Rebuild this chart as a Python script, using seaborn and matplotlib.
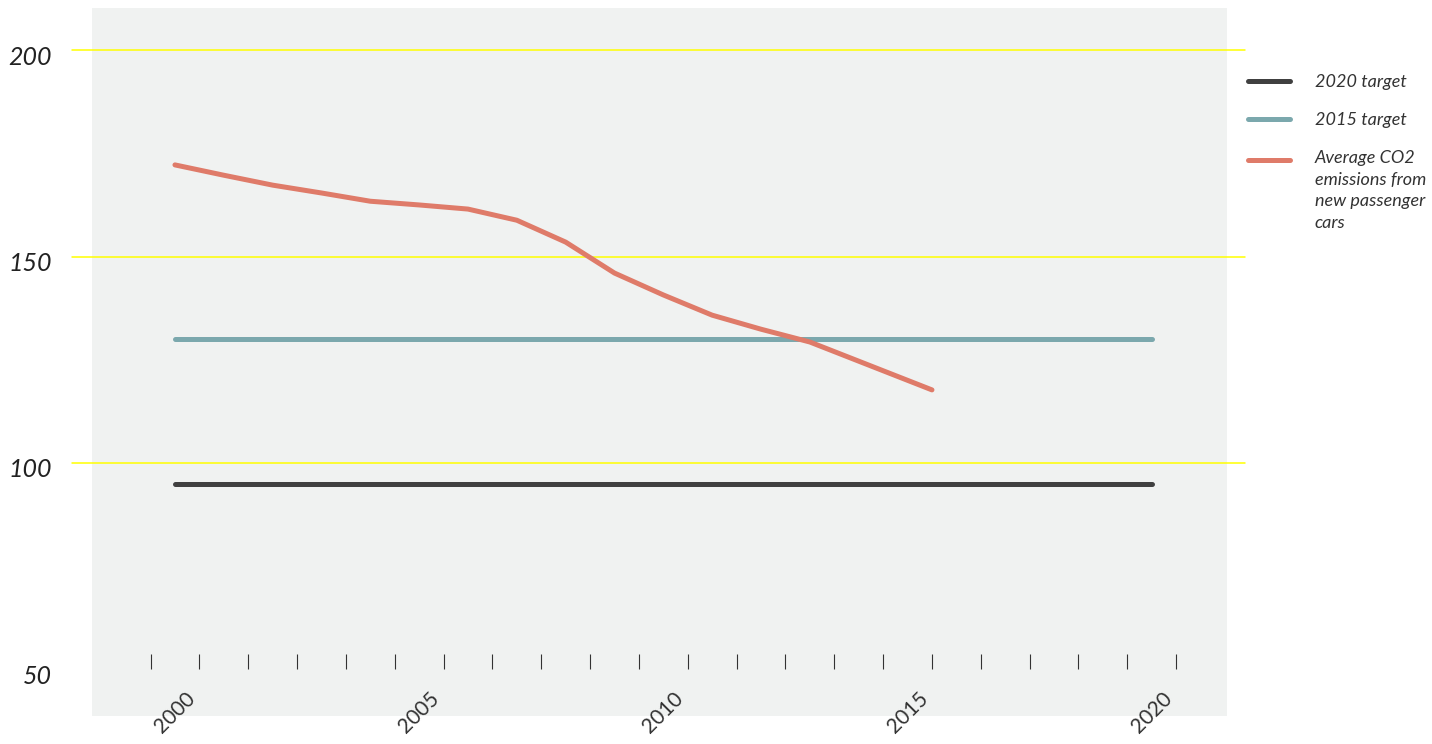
import numpy as np
import matplotlib
matplotlib.use('Agg')
import matplotlib.pyplot as plt
import matplotlib.transforms as mtransforms
from matplotlib.legend_handler import HandlerLine2D
import seaborn as sns

sns.set_style('white')
plt.rcParams['font.family'] = ['Lato', 'DejaVu Sans']

# data
target2020_years = [2000, 2020]
target2020_vals = [95, 95]
target2015_years = [2000, 2020]
target2015_vals = [130, 130]
avg_years = [2000, 2001, 2002, 2003, 2004, 2005, 2006, 2007, 2008, 2009,
             2010, 2011, 2012, 2013, 2015.5]
avg_vals = [172.2, 169.7, 167.3, 165.4, 163.4, 162.5, 161.5, 158.8, 153.5, 146.0,
            140.7, 135.8, 132.4, 129.3, 117.7]
labels = ['2020 target', '2015 target', 'Average CO2\nemissions from\nnew passenger\ncars']
colors = ['#404040', '#7ba8ad', '#df7b69']
yticks = [50, 100, 150, 200]
xticks = [2000, 2005, 2010, 2015, 2020]


# legend handle that sits on the first line of a multi-line label
class TopLineHandler(HandlerLine2D):
    def __init__(self, lift, **kw):
        super().__init__(**kw)
        self.lift = lift

    def create_artists(self, legend, orig_handle, xdescent, ydescent,
                       width, height, fontsize, trans):
        arts = super().create_artists(legend, orig_handle, xdescent, ydescent,
                                      width, height, fontsize, trans)
        for a in arts:
            a.set_ydata(np.asarray(a.get_ydata()) + self.lift * fontsize)
        return arts


fig = plt.figure(figsize=(14.32, 7.44), dpi=100)
ax = fig.add_axes([0.0642, 0.0376, 0.7926, 0.9516])
ax.set_facecolor('#f0f2f1')

for val in [100, 150, 200]:
    ax.axhline(val, xmin=-0.0176, xmax=1.0159, color='#ffff00', lw=1.1,
               clip_on=False, zorder=1)

lw = 3.6
sns.lineplot(x=target2020_years, y=target2020_vals, color=colors[0], lw=lw,
             solid_capstyle='round', ax=ax, zorder=3)
sns.lineplot(x=target2015_years, y=target2015_vals, color=colors[1], lw=lw,
             solid_capstyle='round', ax=ax, zorder=3)
sns.lineplot(x=avg_years, y=avg_vals, color=colors[2], lw=lw,
             solid_capstyle='round', ax=ax, zorder=4)

ax.set_xlim(1998.30, 2021.54)
ax.set_ylim(38.7, 210.2)

for s in ax.spines.values():
    s.set_visible(False)
ax.spines['bottom'].set_position(('data', 50))

ax.set_xticks(xticks)
ax.set_xticklabels([str(x) for x in xticks], rotation=45, ha='center',
                   fontsize=15, color='#333333')
# small year marks between the years
ax.set_xticks(np.arange(1999.5, 2021, 1), minor=True)
ax.tick_params(axis='x', which='major', length=0, pad=14)
ax.tick_params(axis='x', which='minor', bottom=True, direction='in',
               length=10.8, width=0.8, color='#333333')

ax.set_yticks(yticks)
ax.set_yticklabels([str(y) for y in yticks], fontsize=18, fontstyle='italic',
                   color='#222222')
ax.tick_params(axis='y', length=0, pad=29)
shift = mtransforms.ScaledTranslation(0, -5 / 100, fig.dpi_scale_trans)
for lab in ax.get_yticklabels():
    lab.set_transform(lab.get_transform() + shift)

ax.set_xlabel('')
ax.set_ylabel('')

lines = ax.get_lines()[3:]
leg = fig.legend(lines, labels, loc='upper left',
                 bbox_to_anchor=(0.8715, 0.900), frameon=False,
                 borderpad=0, borderaxespad=0, handlelength=2.3,
                 handletextpad=1.4, labelspacing=1.2,
                 prop={'size': 13, 'style': 'italic'},
                 handler_map={lines[2]: TopLineHandler(1.72)})
for t in leg.get_texts():
    t.set_color('#333333')
    t.set_linespacing(1.45)
for h in leg.legend_handles:
    h.set_linewidth(lw)
    h.set_solid_capstyle('round')

fig.savefig('out.png', dpi=100)
